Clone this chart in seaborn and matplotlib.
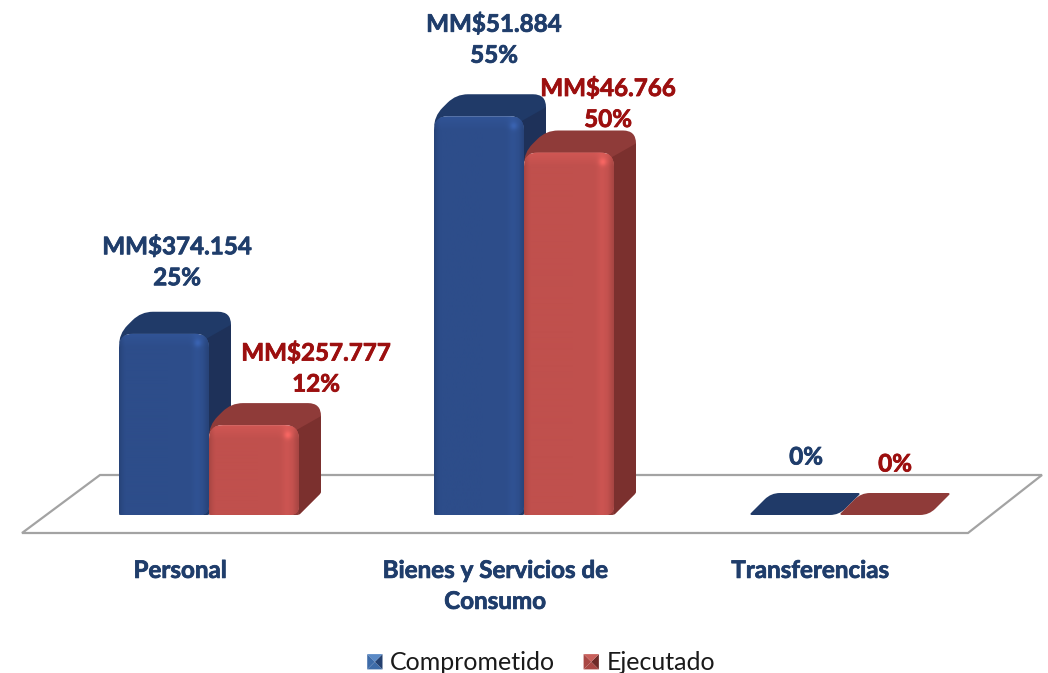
import numpy as np
import pandas as pd
import seaborn as sns
import matplotlib.pyplot as plt
import matplotlib.patheffects as pe
from matplotlib.colors import to_rgb
from matplotlib.legend_handler import HandlerBase
from matplotlib.patches import PathPatch, Polygon
from matplotlib.path import Path

categorias = ['Personal', 'Bienes y Servicios de\nConsumo', 'Transferencias']
series = ['Comprometido', 'Ejecutado']
comprometido = [25, 55, 0]
ejecutado = [12.4, 50, 0]
etiq_comp = ['MM$374.154\n25%', 'MM$51.884\n55%', '0%']
etiq_ejec = ['MM$257.777\n12%', 'MM$46.766\n50%', '0%']

W, H = 1048, 673
AX_BOTTOM = 545          # pixel row where the axes end
BASE = 515               # pixel row of value 0
PX_PER_UNIT = 7.25
PX_PER_CAT = 315
CAT0 = 209
DEPTH = 22

colores = {'Comprometido': {'front': '#2d4d8a', 'top': '#203a68', 'side': '#1e3159', 'text': '#1f3d6b'},
           'Ejecutado': {'front': '#c0504d', 'top': '#8f3b39', 'side': '#7b302e', 'text': '#9c0f0f'}}
# label centre relative to bar top centre, in pixels (x right, y up)
off_comp = [(13, 50), (15, 55), (12, 36)]
off_ejec = [(62, 35), (39, 27), (11, 29)]

sns.set_style('white')
plt.rcParams['font.family'] = ['Lato', 'DejaVu Sans']
negrita = [pe.withStroke(linewidth=0.55, foreground='#1f3d6b')]
negrita_r = [pe.withStroke(linewidth=0.55, foreground='#9c0f0f')]

df = pd.DataFrame({'cat': categorias * 2,
                   'serie': [series[0]] * 3 + [series[1]] * 3,
                   'pct': comprometido + ejecutado})

fig = plt.figure(figsize=(W / 100, H / 100), dpi=100)
ax = fig.add_axes([0, 1 - AX_BOTTOM / H, 1, AX_BOTTOM / H])
sns.barplot(data=df, x='cat', y='pct', hue='serie', palette=[colores[s]['front'] for s in series],
            width=2 * 90 / PX_PER_CAT, gap=0, errorbar=None, saturation=1, ax=ax)
ax.set_xlim(-CAT0 / PX_PER_CAT, (W - CAT0) / PX_PER_CAT)
ax.set_ylim(-(AX_BOTTOM - BASE) / PX_PER_UNIT, BASE / PX_PER_UNIT)
ax.set_autoscale_on(False)
ax.set_xlabel('')
ax.set_ylabel('')
ax.set_yticks([])
# the category names sit a little left of the bar groups
ax.set_xticks([i - 29 / PX_PER_CAT for i in range(3)], categorias)
sns.despine(ax=ax, left=True, bottom=True)
ax.tick_params(axis='x', length=0, pad=10)
for t in ax.get_xticklabels():
    t.set_fontsize(17.4)
    t.set_fontweight('bold')
    t.set_color('#1f3d6b')
    t.set_linespacing(1.42)
    t.set_path_effects(negrita)

inv = ax.transData.inverted()


def round_path(pts, radios):
    # closed polygon in display pixels with rounded corners, returned in data coords
    pts = np.array(pts, float)
    n = len(pts)
    verts, codes = [], []
    for i in range(n):
        p, a, b = pts[i], pts[i - 1], pts[(i + 1) % n]
        r = radios[i] if np.iterable(radios) else radios
        ua = (a - p) / max(np.hypot(*(a - p)), 1e-6)
        ub = (b - p) / max(np.hypot(*(b - p)), 1e-6)
        verts += [p + ua * r, p, p + ub * r]
        codes += [Path.MOVETO if i == 0 else Path.LINETO, Path.CURVE3, Path.CURVE3]
    verts.append(verts[0])
    codes.append(Path.CLOSEPOLY)
    return Path(inv.transform(np.array(verts)), codes)


def textura(base, w, h):
    # bevel look of the front face
    xx = np.arange(int(w)) + 0.5
    yy = np.arange(int(h)) + 0.5
    u, v = np.meshgrid(xx, yy)
    f = np.ones_like(u)
    f += 0.09 * np.clip(1 - v / 14, 0, 1)                   # top strip
    f -= 0.14 * np.clip(1 - u / 7, 0, 1) ** 1.5               # left edge
    f += 0.06 * np.exp(-((u - (w - 12)) / 5) ** 2)          # right strip
    f -= 0.14 * np.clip((u - (w - 6)) / 6, 0, 1)             # right edge
    f += 0.20 * np.exp(-((u - (w - 11)) / 4) ** 2 - ((v - 10) / 4) ** 2)  # corner shine
    img = np.clip(np.dstack([f * c for c in to_rgb(base)]), 0, 1)
    return img


# floor plane
suelo_px = [(22, H - 533), (968, H - 533), (1042, H - 475), (100, H - 475)]
ax.add_patch(Polygon(inv.transform(suelo_px), closed=True, fc='white', ec='#a3a3a3', lw=1.6,
                     joinstyle='miter', zorder=1, clip_on=False))

for j, (serie, cont) in enumerate(zip(series, ax.containers)):
    col = colores[serie]
    etiquetas = etiq_comp if j == 0 else etiq_ejec
    offs = off_comp if j == 0 else off_ejec
    z = 3 + 3 * j
    for bar, txt, off in zip(cont, etiquetas, offs):
        (x0, y0), (x1, y1) = ax.transData.transform(
            [(bar.get_x(), 0), (bar.get_x() + bar.get_width(), bar.get_height())])
        d = DEPTH
        silueta = [(x0, y1), (x0 + d, y1 + d), (x1 + d, y1 + d), (x1 + d, y0 + d), (x1, y0), (x0, y0)]
        if bar.get_height() > 0:
            fondo = PathPatch(round_path(silueta, [12, 12, 13, 2, 2, 1]), fc=col['top'], ec='none', zorder=z)
            ax.add_patch(fondo)
            lado = Polygon(inv.transform([(x1 - 8, y1 - 8), (x1 + d, y1 + d - 13), (x1 + d, y0 + d), (x1, y0)]),
                           closed=True, fc=col['side'], ec='none', zorder=z + 0.1)
            ax.add_patch(lado)
            lado.set_clip_path(fondo)
            frente = PathPatch(round_path([(x0, y0), (x0, y1), (x1, y1), (x1, y0)], [2, 14, 14, 9]),
                               fc='none', ec='none', zorder=z + 0.2)
            ax.add_patch(frente)
            bar.set_zorder(z + 0.2)
            bar.set_clip_path(frente)
            (dx0, dy0), (dx1, dy1) = inv.transform([(x0, y0), (x1, y1)])
            im = ax.imshow(textura(col['front'], x1 - x0, y1 - y0), extent=(dx0, dx1, dy0, dy1),
                           origin='upper', aspect='auto', interpolation='bilinear', zorder=z + 0.3)
            im.set_clip_path(frente)
        else:
            # empty value: only the flat top is left, as a parallelogram
            plano = [(x0, y0), (x0 + d, y1 + d), (x1 + d, y1 + d), (x1, y0)]
            bar.set_visible(False)
            ax.add_patch(PathPatch(round_path(plano, [3, 9, 3, 9]), fc=col['top'], ec='none', zorder=z))
        cx, cy = inv.transform([((x0 + x1) / 2 + off[0], y1 + d + off[1])])[0]
        ax.text(cx, cy, txt, ha='center', va='center', fontsize=17.4, fontweight='bold',
                color=col['text'], linespacing=1.42, zorder=12,
                path_effects=negrita if j == 0 else negrita_r)


class BiselHandler(HandlerBase):
    def __init__(self, claro, medio, oscuro):
        super().__init__()
        self.tonos = (claro, medio, oscuro)

    def create_artists(self, legend, orig, xd, yd, width, height, fontsize, trans):
        s = 11   # points, about 15 px
        xa, ya = width - s - xd, (height - s) / 2 - yd
        esq = [(xa, ya), (xa + s, ya), (xa + s, ya + s), (xa, ya + s)]
        c = (xa + s / 2, ya + s / 2)
        cl, me, os_ = self.tonos
        out = []
        for k, tono in enumerate([me, os_, cl, me]):
            out.append(Polygon([esq[k], esq[(k + 1) % 4], c], closed=True, fc=tono, ec='none', transform=trans))
        return out


h, l = ax.get_legend_handles_labels()
leg = ax.legend(h, l, loc='center', bbox_to_anchor=(541 / W, 1 - 663 / H), bbox_transform=fig.transFigure,
                ncol=2, frameon=False, fontsize=18, handlelength=0.62, handletextpad=0.3, columnspacing=1.13,
                borderpad=0,
                handler_map={h[0]: BiselHandler('#5a8ac6', '#3d6ba8', '#24406f'),
                             h[1]: BiselHandler('#c9605c', '#a94744', '#6e2a28')})
for t in leg.get_texts():
    t.set_color('#1a1a1a')

fig.savefig('out.png', dpi=100)
